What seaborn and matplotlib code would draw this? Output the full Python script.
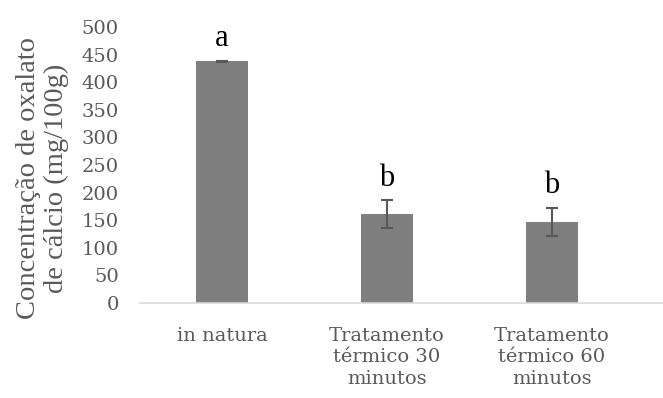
import matplotlib
matplotlib.use("Agg")
import matplotlib.pyplot as plt
import seaborn as sns
import pandas as pd

categories = ["in natura", "Tratamento\ntérmico 30\nminutos", "Tratamento\ntérmico 60\nminutos"]
values = [438, 160.5, 147]
errors = [1, 25.5, 25.5]
letters = ["a", "b", "b"]
yticks = [0, 50, 100, 150, 200, 250, 300, 350, 400, 450, 500]

sns.set_theme(style="white")
plt.rcParams['font.family'] = ['Liberation Serif', 'DejaVu Serif']

df = pd.DataFrame({"cat": categories, "val": values})

fig = plt.figure(figsize=(6.63, 3.98), dpi=100)
ax = fig.add_axes([139.5 / 663, 1 - 303 / 398, 1 - 139.5 / 663, (303 - 27) / 398])
sns.barplot(data=df, x="cat", y="val", color="#7f7f7f", saturation=1, width=0.315,
            errorbar=None, ax=ax, edgecolor="none")
ax.errorbar(range(len(values)), values, yerr=errors, fmt="none", ecolor="#595959",
            elinewidth=1.5, capsize=4.5, capthick=1.5)
for i, (v, e, l) in enumerate(zip(values, errors, letters)):
    ax.text(i, v + e + 26, l, ha="center", va="baseline", fontsize=22, color="black",
            family="Liberation Serif")

ax.set_ylim(0, 500)
ax.set_xlim(-0.5, 2.673)
ax.set_yticks(yticks)
ax.set_yticklabels([str(t) for t in yticks], family="DejaVu Serif")
ax.set_xticks(range(len(categories)))
ax.set_xticklabels(categories, family="DejaVu Serif", linespacing=1.25)
ax.tick_params(axis="y", colors="#595959", labelsize=14, length=0, pad=15)
ax.tick_params(axis="x", colors="#595959", labelsize=14, length=0, pad=17)
ax.set_xlabel("")
ax.set_ylabel("Concentração de oxalato\nde cálcio (mg/100g)", fontsize=20.5, color="#595959",
              linespacing=1.15, family="Liberation Serif")
ax.yaxis.set_label_coords((69 - 139.5) / 523.5, (303 - 178) / 276)
for s in ["top", "right", "left"]:
    ax.spines[s].set_visible(False)
ax.spines["bottom"].set_color("#d9d9d9")
ax.spines["bottom"].set_linewidth(1.2)

fig.savefig("out.png", dpi=100)
